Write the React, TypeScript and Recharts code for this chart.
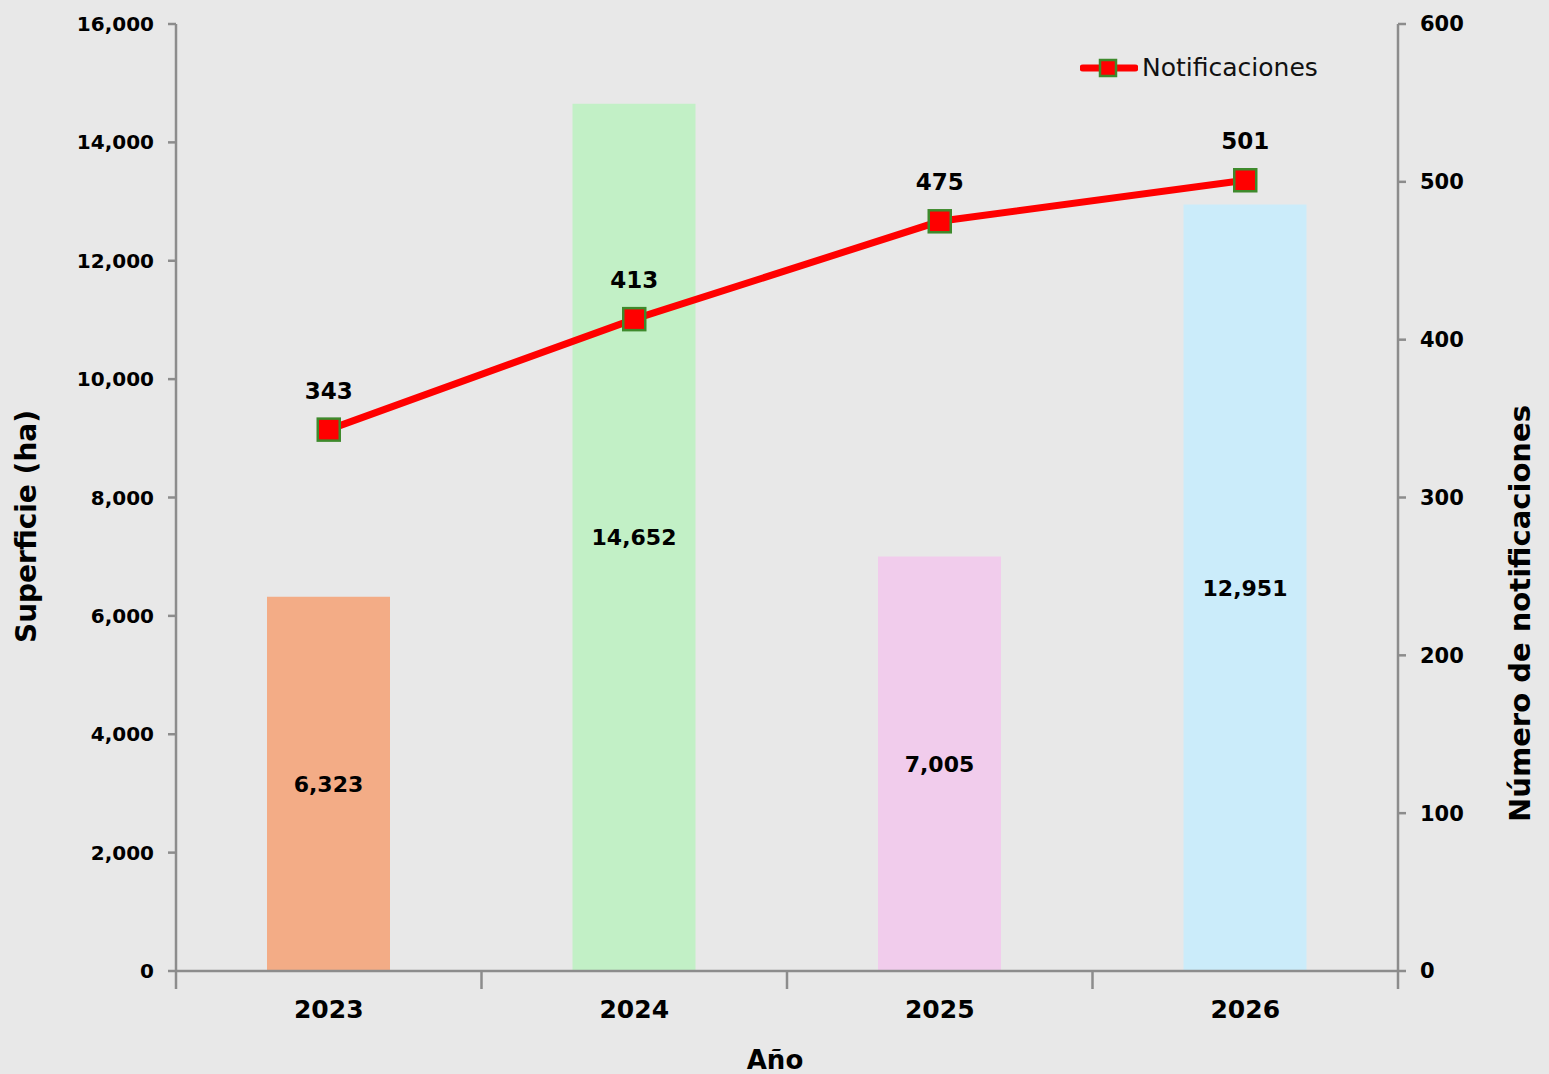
import React from 'react';
import { ComposedChart, Bar, Line, XAxis, YAxis, Cell, LabelList } from 'recharts';

const years = ['2023', '2024', '2025', '2026'];
const superficie = [6323, 14652, 7005, 12951];
const notificaciones = [343, 413, 475, 501];
const barColors = ['#F3AC86', '#C2F0C6', '#F1CCEC', '#CBECFA'];
const leftTicks = [0, 2000, 4000, 6000, 8000, 10000, 12000, 14000, 16000];
const rightTicks = [0, 100, 200, 300, 400, 500, 600];

const data = years.map((y, i) => ({
    year: y,
    superficie: superficie[i],
    notificaciones: notificaciones[i],
}));

const FONT = '"DejaVu Sans", sans-serif';
const AXIS = '#8C8C8C';

const fmt = (v: number) => v.toLocaleString('en-US');

const SquareDot = (props: any) => {
    const { cx, cy } = props;
    if (cx == null || cy == null) return null;
    return <rect x={cx - 11} y={cy - 11} width={22} height={22} fill="#FF0000" stroke="#3E8A2C" strokeWidth={2.5} />;
};

const XTick = (props: any) => {
    const { x, y, payload, index } = props;
    const half = 1222 / years.length / 2;
    return (
        <g>
            <line x1={x - half} y1={y - 8} x2={x - half} y2={y + 10} stroke={AXIS} strokeWidth={2.5} />
            {index === years.length - 1 && (
                <line x1={x + half} y1={y - 8} x2={x + half} y2={y + 10} stroke={AXIS} strokeWidth={2.5} />
            )}
            <text x={x} y={y + 39} textAnchor="middle" fontFamily={FONT} fontWeight="bold" fontSize={25} fill="#000">
                {payload.value}
            </text>
        </g>
    );
};

const LegendBox = () => (
    <div style={{ position: 'absolute', left: 1080, top: 53, display: 'flex', alignItems: 'center', fontFamily: FONT, fontSize: 25, color: '#111' }}>
        <svg width={58} height={24}>
            <line x1={3} y1={12} x2={55} y2={12} stroke="#FF0000" strokeWidth={7} strokeLinecap="round" />
            <rect x={20} y={4} width={16} height={16} fill="#FF0000" stroke="#3E8A2C" strokeWidth={2.5} />
        </svg>
        <span style={{ marginLeft: 4 }}>Notificaciones</span>
    </div>
);

export default function App() {
    return (
        <div style={{ position: 'absolute', left: 0, top: 0, width: 1549, height: 1074, background: '#E8E8E8', overflow: 'hidden' }}>
            <ComposedChart width={1549} height={1074} data={data} margin={{ top: 24, right: 0, bottom: 0, left: 0 }}>
                <XAxis
                    dataKey="year"
                    height={103}
                    axisLine={{ stroke: AXIS, strokeWidth: 2.5 }}
                    tickLine={false}
                    tick={<XTick />}
                    label={{
                        content: (p: any) => {
                            const vb = p.viewBox;
                            return (
                                <text x={vb.x + 599} y={vb.y + 98} textAnchor="middle" fontFamily={FONT} fontWeight="bold" fontSize={26} fill="#000">
                                    Año
                                </text>
                            );
                        },
                    }}
                />
                <YAxis
                    yAxisId="left"
                    width={176}
                    domain={[0, 16000]}
                    ticks={leftTicks}
                    interval={0}
                    tickFormatter={fmt}
                    axisLine={{ stroke: AXIS, strokeWidth: 2.5 }}
                    tickLine={{ stroke: AXIS, strokeWidth: 2.5 }}
                    tickSize={8}
                    tickMargin={14}
                    tick={{ fontFamily: FONT, fontWeight: 'bold', fontSize: 20, fill: '#000' }}
                    label={{
                        content: (p: any) => {
                            const vb = p.viewBox;
                            const cx = vb.x + 26;
                            const cy = vb.y + vb.height / 2 + 29;
                            return (
                                <text x={cx} y={cy} transform={`rotate(-90 ${cx} ${cy})`} textAnchor="middle" dominantBaseline="central" fontFamily={FONT} fontWeight="bold" fontSize={28} fill="#000">
                                    Superficie (ha)
                                </text>
                            );
                        },
                    }}
                />
                <YAxis
                    yAxisId="right"
                    orientation="right"
                    width={151}
                    domain={[0, 600]}
                    ticks={rightTicks}
                    interval={0}
                    axisLine={{ stroke: AXIS, strokeWidth: 2.5 }}
                    tickLine={{ stroke: AXIS, strokeWidth: 2.5 }}
                    tickSize={8}
                    tickMargin={14}
                    tick={{ fontFamily: FONT, fontWeight: 'bold', fontSize: 21, fill: '#000' }}
                    label={{
                        content: (p: any) => {
                            const vb = p.viewBox;
                            const cx = vb.x + 122;
                            const cy = vb.y + vb.height / 2 + 116;
                            return (
                                <text x={cx} y={cy} transform={`rotate(-90 ${cx} ${cy})`} textAnchor="middle" dominantBaseline="central" fontFamily={FONT} fontWeight="bold" fontSize={29} fill="#000">
                                    Número de notificaciones
                                </text>
                            );
                        },
                    }}
                />
                <Bar yAxisId="left" dataKey="superficie" barSize={123} isAnimationActive={false}>
                    {data.map((d, i) => (
                        <Cell key={d.year} fill={barColors[i]} />
                    ))}
                    <LabelList dataKey="superficie" position="center" formatter={(v: any) => fmt(Number(v))} style={{ fontFamily: FONT, fontWeight: 'bold', fontSize: 22, fill: '#000' }} />
                </Bar>
                <Line
                    yAxisId="right"
                    dataKey="notificaciones"
                    stroke="#FF0000"
                    strokeWidth={7}
                    dot={<SquareDot />}
                    activeDot={false}
                    isAnimationActive={false}
                >
                    <LabelList dataKey="notificaciones" position="top" offset={31} style={{ fontFamily: FONT, fontWeight: 'bold', fontSize: 23, fill: '#000' }} />
                </Line>
            </ComposedChart>
            <LegendBox />
        </div>
    );
}
